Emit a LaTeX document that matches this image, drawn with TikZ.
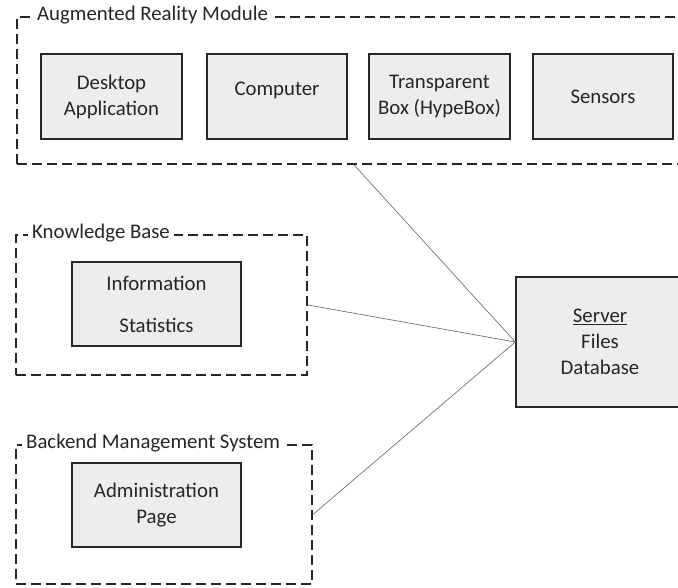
\documentclass[tikz,border=0pt]{standalone}
\usepackage{fontspec}
\setmainfont{Carlito}
\usetikzlibrary{calc}
\begin{document}
\begin{tikzpicture}[x=1pt,y=-1pt,
  every node/.style={font=\fontsize{20.8}{26}\selectfont, text=black!85},
  group/.style={draw=black!85, line width=1.8pt, dash pattern=on 10pt off 5pt, inner sep=0pt},
  gtitle/.style={fill=white, inner xsep=5pt, inner ysep=1pt, anchor=west},
  comp/.style={draw=black!85, line width=1.4pt, fill=black!7, align=center, inner sep=0pt},
  link/.style={draw=black!55, line width=0.7pt}]
\useasboundingbox (0,0) rectangle (678,588);
% groups
\node[group, minimum width=683, minimum height=147] (ar) at (358.5,90.5) {};
\node[group, minimum width=291, minimum height=140] (kb) at (161.5,305) {};
\node[group, minimum width=296, minimum height=139] (bms) at (164,514.5) {};
\node[gtitle] (art) at (32,15) {Augmented Reality Module};
\node[gtitle, inner xsep=4pt] (kbt) at (28,233) {Knowledge Base};
\node[gtitle, inner xsep=4pt] (bmst) at (22,443) {Backend Management System};
% components
\node[comp, minimum width=141, minimum height=85] (desk) at (111.5,96.5) {Desktop\\Application};
\node[comp, minimum width=140, minimum height=85] (comp) at (277,96.5) {\raisebox{5pt}{Computer}\rule[-10pt]{0pt}{1pt}};
\node[comp, minimum width=141, minimum height=85] (tbox) at (439.5,96.5) {Transparent\\Box (HypeBox)};
\node[comp, minimum width=140, minimum height=85] (sens) at (603,96.5) {Sensors};
\node[comp, minimum width=169, minimum height=84] (info) at (156.5,304) {Information\\[16pt]Statistics};
\node[comp, minimum width=169, minimum height=84] (admin) at (156.5,505) {Administration\\Page};
\node[comp, minimum width=168, minimum height=130] (srv) at (600,342) {\underline{Server}\\Files\\Database};
% connectors
\draw[link] (srv.west) -- ([xshift=338pt]ar.south west);
\draw[link] (srv.west) -- (kb.east);
\draw[link] (srv.west) -- (bms.east);
\end{tikzpicture}
\end{document}
